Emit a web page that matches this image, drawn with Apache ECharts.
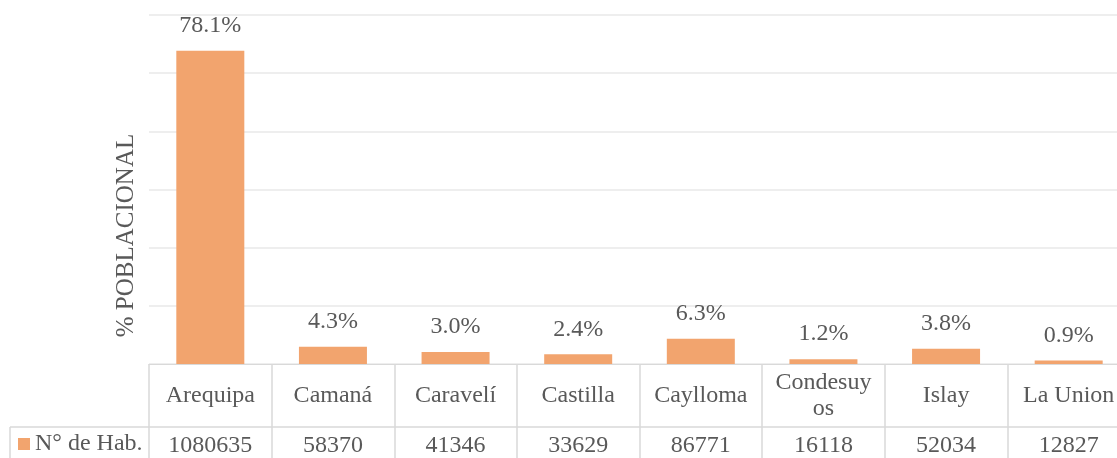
<!DOCTYPE html>
<html>
<head>
<meta charset="utf-8">
<script src="https://cdn.jsdelivr.net/npm/echarts@6/dist/echarts.min.js"></script>
<style>
  html, body { margin: 0; padding: 0; background: #ffffff; overflow: hidden; width: 1117px; height: 458px; }
  /* the last column of the data table runs past the right edge of the page */
  #chart { width: 1140px; height: 458px; }
</style>
</head>
<body>
<div id="chart"></div>
<script>
// Provincias de Arequipa: porcentaje poblacional y número de habitantes
const provincias = ['Arequipa', 'Camaná', 'Caravelí', 'Castilla', 'Caylloma', 'Condesuyos', 'Islay', 'La Union'];
const porcentaje = [78.1, 4.3, 3.0, 2.4, 6.3, 1.2, 3.8, 0.9];
const habitantes = [1080635, 58370, 41346, 33629, 86771, 16118, 52034, 12827];
const serieNombre = 'N° de Hab.';

const FONT = '"Liberation Serif", "Times New Roman", serif';
const TEXT = '#595959';
const LINE = '#d9d9d9';
const BAR = '#f2a46e';
const SIZE = 24;

const chart = echarts.init(document.getElementById('chart'), null, { renderer: 'canvas' });

chart.setOption({
  animation: false,
  backgroundColor: '#ffffff',
  grid: { left: 149, top: 15, width: 981, height: 349, containLabel: false },
  legend: {
    data: [serieNombre],
    left: 18,
    top: 432,
    padding: 0,
    icon: 'rect',
    itemWidth: 12,
    itemHeight: 12,
    itemGap: 0,
    textStyle: { fontFamily: FONT, fontSize: SIZE, color: TEXT }
  },
  xAxis: [
    {
      type: 'category',
      data: provincias,
      position: 'bottom',
      axisLine: { show: true, lineStyle: { color: LINE, width: 1 } },
      axisTick: { show: true, length: 63, lineStyle: { color: LINE, width: 1.5 } },
      axisLabel: {
        interval: 0,
        margin: 32,
        verticalAlign: 'middle',
        fontFamily: FONT,
        fontSize: SIZE,
        lineHeight: 26,
        color: TEXT,
        width: 104,
        overflow: 'breakAll'
      },
      splitLine: { show: false }
    },
    {
      type: 'category',
      data: habitantes.map(String),
      position: 'bottom',
      offset: 63,
      axisLine: { show: true, lineStyle: { color: LINE, width: 1.5 } },
      axisTick: { show: true, length: 40, lineStyle: { color: LINE, width: 1.5 } },
      axisLabel: {
        interval: 0,
        margin: 19,
        verticalAlign: 'middle',
        fontFamily: FONT,
        fontSize: SIZE,
        color: TEXT
      }
    }
  ],
  yAxis: {
    type: 'value',
    min: 0,
    max: 87,
    interval: 14.5,
    name: '% POBLACIONAL',
    nameLocation: 'middle',
    nameRotate: 90,
    nameGap: 10,
    nameTextStyle: { fontFamily: FONT, fontSize: 25, color: TEXT, padding: [0, 92, 0, 0] },
    axisLine: { show: false },
    axisTick: { show: false },
    axisLabel: { show: false },
    splitLine: { show: true, lineStyle: { color: '#e8e8e8', width: 1.5 } }
  },
  series: [
    {
      name: serieNombre,
      type: 'bar',
      xAxisIndex: 0,
      data: porcentaje,
      barWidth: 68,
      itemStyle: { color: BAR },
      label: {
        show: true,
        position: 'top',
        distance: 13,
        fontFamily: FONT,
        fontSize: SIZE,
        color: TEXT,
        formatter: p => p.value.toFixed(1) + '%'
      }
    }
  ],
  graphic: [
    // borde de la celda de la leyenda en la tabla de datos
    {
      type: 'line',
      shape: { x1: 10, y1: 427, x2: 149, y2: 427 },
      style: { stroke: LINE, lineWidth: 1.5 }
    },
    {
      type: 'line',
      shape: { x1: 10, y1: 427, x2: 10, y2: 470 },
      style: { stroke: LINE, lineWidth: 1.5 }
    }
  ]
});
</script>
</body>
</html>
